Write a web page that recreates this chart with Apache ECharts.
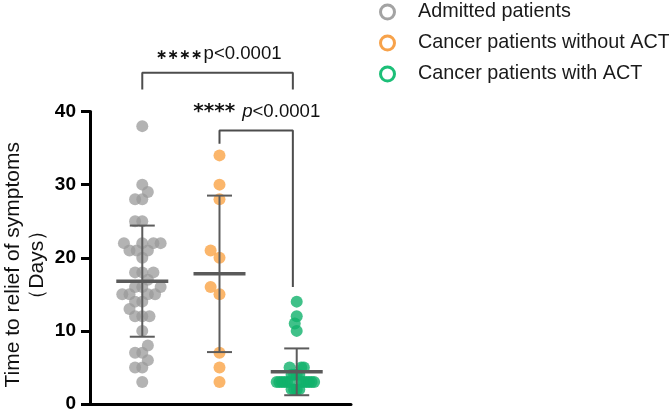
<!DOCTYPE html>
<html><head><meta charset="utf-8">
<script src="https://cdn.jsdelivr.net/npm/echarts@6/dist/echarts.min.js"></script>
<style>html,body{margin:0;padding:0;background:#fff}#c{width:669px;height:415px}</style>
</head><body><div id="c"></div>
<script>
// ---- data ----
const groups = ['Admitted patients', 'Cancer patients without ACT', 'Cancer patients with ACT'];
const admitted = [38,30,29,28,28,25,25,22,22,22,22,21,21,21,20,18,18,18,17,16,16,16,15,15,15,15,14,14,13,12,12,12,10,8,7,7,6,5,5,3];
const withoutACT = [34,30,28,21,20,16,15,7,5,3];
const withACT = [14,12,11,10,5,5,5,4,4,4,4,3,3,3,3,3,3,3,3,3,3,3,3,2,2,2,2];
const means = [16.8, 17.8, 4.4];
const sds = [7.6, 10.7, 3.2];
const yTicks = [0, 10, 20, 30, 40];
const pLabels = ['p<0.0001', 'p<0.0001'];
const starLabels = ['****', '****'];

// ---- styling ----
const FONT = 'Arial, "Liberation Sans", Helvetica, sans-serif';
const colors = ['#9a9a9a', '#f99d3a', '#10b26c'];
const legendColors = ['#a3a3a3', '#f7a24a', '#1cbf78'];
const seriesValues = [admitted, withoutACT, withACT];

const chart = echarts.init(document.getElementById('c'), null, {renderer: 'canvas'});

function swarm(values, D, yScale, maxHalf) {
  const order = values.map((v, k) => k).sort((a, b) => values[a] - values[b]);
  const placed = [];
  const off = new Array(values.length).fill(0);
  order.forEach(k => {
    const y = values[k] * yScale;
    const near = placed.filter(p => Math.abs(p.y - y) < D);
    const cands = [0];
    near.forEach(p => {
      const dx = Math.sqrt(D * D - (p.y - y) * (p.y - y));
      cands.push(p.x + dx, p.x - dx);
    });
    const ok = cands.filter(c => near.every(p => {
      const dx = Math.sqrt(D * D - (p.y - y) * (p.y - y));
      return Math.abs(c - p.x) >= dx - 1e-6;
    }));
    ok.sort((a, b) => Math.abs(a) - Math.abs(b) || a - b);
    const x = ok[0];
    placed.push({x, y});
    off[k] = x;
  });
  const m = Math.max(...off.map(Math.abs));
  if (m > maxHalf) { const f = maxHalf / m; for (let i = 0; i < off.length; i++) off[i] *= f; }
  return off;
}

function buildOption(scatterData, graphics) {
  return {
    animation: false,
    backgroundColor: '#fff',
    grid: {left: 89, right: 318, top: 111.5, bottom: 11},
    legend: {
      orient: 'vertical', left: 379, top: 2, padding: 0,
      itemWidth: 17, itemHeight: 14, itemGap: 11,
      symbolKeepAspect: true,
      textStyle: {fontSize: 19.8, fontFamily: FONT, color: '#1a1a1a', padding: [0, 0, 0, 17]},
      data: groups.map((g, i) => ({
        name: g, icon: 'circle',
        itemStyle: {color: 'rgba(255,255,255,0)', borderColor: legendColors[i], borderWidth: 3, opacity: 1}
      }))
    },
    xAxis: {
      type: 'value', min: -0.677, max: 2.703,
      axisLine: {show: true, onZero: false, lineStyle: {color: '#000', width: 3}},
      axisTick: {show: false}, axisLabel: {show: false}, splitLine: {show: false}
    },
    yAxis: {
      type: 'value', min: yTicks[0], max: yTicks[yTicks.length - 1], interval: 10,
      name: 'Time to relief of symptoms\n（Days）',
      nameLocation: 'middle', nameGap: 41, nameRotate: 90,
      nameTextStyle: {fontSize: 21, fontFamily: FONT, color: '#111', lineHeight: 24, padding: [0, 14, 0, 0]},
      axisLine: {show: true, onZero: false, lineStyle: {color: '#000', width: 3}},
      axisTick: {show: true, inside: false, length: 9, lineStyle: {color: '#000', width: 3}},
      axisLabel: {show: true, margin: 14, fontSize: 19, fontWeight: 'bold', fontFamily: FONT, color: '#000'},
      splitLine: {show: false}
    },
    series: [
      ...groups.map((g, i) => ({
        name: g, type: 'scatter', symbol: 'circle', symbolSize: 12,
        itemStyle: {color: colors[i], opacity: i === 2 ? 0.8 : 0.75},
        data: scatterData[i], z: 2, silent: true
      })),
      {
        type: 'custom', silent: true, z: 10,
        data: means.map((m, i) => [i, m, sds[i]]),
        encode: {x: 0, y: 1},
        renderItem: (params, api) => {
          const i = api.value(0), m = api.value(1), s = api.value(2);
          const c = api.coord([i, m]);
          const t = api.coord([i, m + s]);
          const b = api.coord([i, m - s]);
          const st = {stroke: '#5c5c5c', lineWidth: 2};
          return {type: 'group', children: [
            {type: 'line', shape: {x1: c[0], y1: t[1], x2: c[0], y2: b[1]}, style: st},
            {type: 'line', shape: {x1: c[0] - 12.5, y1: t[1], x2: c[0] + 12.5, y2: t[1]}, style: st},
            {type: 'line', shape: {x1: c[0] - 12.5, y1: b[1], x2: c[0] + 12.5, y2: b[1]}, style: st},
            {type: 'line', shape: {x1: c[0] - 26, y1: c[1], x2: c[0] + 26, y2: c[1]}, style: {stroke: '#5a5a5a', lineWidth: 3.5}}
          ]};
        }
      },
      {
        type: 'line', clip: false, symbol: 'none', silent: true, z: 5,
        lineStyle: {color: '#4d4d4d', width: 2},
        data: [[0, 43.0], [0, 45.3], [1.95, 45.3], [1.95, 43.0]]
      },
      {
        type: 'line', clip: false, symbol: 'none', silent: true, z: 5,
        lineStyle: {color: '#4d4d4d', width: 2},
        data: [[1, 35.6], [1, 37.4], [1.95, 37.4], [1.95, 16.0]]
      }
    ],
    graphic: graphics
  };
}

// first pass to get the scales
chart.setOption(buildOption(seriesValues.map((vals, i) => vals.map(v => [i, v])), []));
const p0 = chart.convertToPixel({gridIndex: 0}, [0, 0]);
const p1 = chart.convertToPixel({gridIndex: 0}, [1, 10]);
const xs = p1[0] - p0[0];
const ys = (p0[1] - p1[1]) / 10;

const scatterData = seriesValues.map((vals, i) => {
  const off = swarm(vals, 11.5, ys, 20);
  return vals.map((v, k) => [i + off[k] / xs, v]);
});

// annotation text anchors from bracket positions
const b1a = chart.convertToPixel({gridIndex: 0}, [0, 45.3]);
const b1b = chart.convertToPixel({gridIndex: 0}, [1.95, 45.3]);
const b2a = chart.convertToPixel({gridIndex: 0}, [1, 37.4]);
const b2b = chart.convertToPixel({gridIndex: 0}, [1.95, 37.4]);
const c1 = (b1a[0] + b1b[0]) / 2, y1 = b1a[1];
const c2 = (b2a[0] + b2b[0]) / 2, y2 = b2a[1];

const graphics = [
  {type: 'text', x: c1 - 15, y: y1 - 17, style: {text: '∗∗∗∗', fontFamily: '"DejaVu Sans"', fontWeight: 'bold', fontSize: 14, fill: '#111', textAlign: 'right', textVerticalAlign: 'middle'}},
  {type: 'text', x: c1 - 14, y: y1 - 19, style: {text: pLabels[0], fontFamily: FONT, fontSize: 18.6, fill: '#111', textAlign: 'left', textVerticalAlign: 'middle'}},
  {type: 'text', x: c2 - 21, y: y2 - 19, style: {text: starLabels[1], fontFamily: '"DejaVu Sans"', fontWeight: 'bold', fontSize: 20, fill: '#111', textAlign: 'right', textVerticalAlign: 'middle'}},
  {type: 'text', x: c2 - 14, y: y2 - 19, style: {text: '{i|p}{n|' + pLabels[1].slice(1) + '}', fill: '#111', textAlign: 'left', textVerticalAlign: 'middle',
    rich: {i: {fontStyle: 'italic', fontFamily: FONT, fontSize: 18.6, fill: '#111'}, n: {fontFamily: FONT, fontSize: 18.6, fill: '#111'}}}}
];

chart.setOption(buildOption(scatterData, graphics), {notMerge: true});
</script>
</body></html>
